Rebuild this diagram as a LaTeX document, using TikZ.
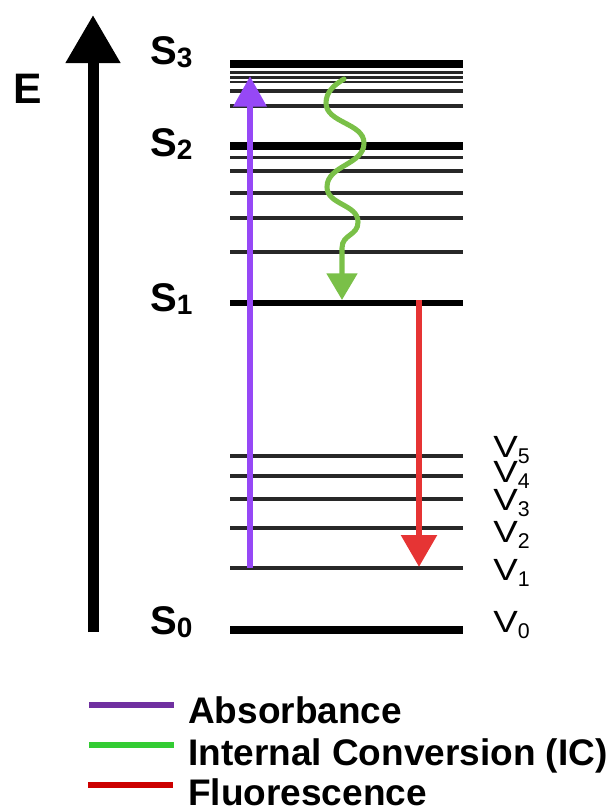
\documentclass[tikz,border=0pt]{standalone}
\usepackage{fontspec}
\setmainfont{Liberation Sans}
\usetikzlibrary{arrows.meta}
\definecolor{absviolet}{RGB}{150,72,246}
\definecolor{icgreen}{RGB}{122,192,72}
\definecolor{flred}{RGB}{230,52,52}
\definecolor{legviolet}{RGB}{112,48,160}
\definecolor{leggreen}{RGB}{51,204,51}
\definecolor{legred}{RGB}{204,0,0}
\definecolor{lvl}{RGB}{40,40,40}
\newcommand\ssub[1]{\raisebox{-2.5pt}{\fontsize{21}{21}\selectfont #1}}
\newcommand\vsub[1]{\raisebox{-4.5pt}{\fontsize{16}{16}\selectfont #1}}
\newcommand\vlet{\scalebox{1.2}[1]{V}}
\begin{document}
\begin{tikzpicture}[x=0.75pt,y=-0.75pt,
  thicklevel/.style={line width=6pt,black},
  thinlevel/.style={line width=2.6pt,lvl},
  finelevel/.style={line width=1.9pt,lvl},
  slabel/.style={anchor=base west,inner sep=0pt,font=\fontsize{30}{30}\selectfont\bfseries},
  vlabel/.style={anchor=base west,inner sep=0pt,font=\fontsize{23}{23}\selectfont},
  leglabel/.style={anchor=base west,inner sep=0pt,font=\fontsize{27.75}{28}\selectfont\bfseries},
  legline/.style={line width=4.5pt},
]
\useasboundingbox (0,0) rectangle (611,810);

% energy axis
\coordinate (axbot) at (93,632);
\coordinate (axtop) at (93,15);
\draw[line width=8.25pt,-{Triangle[length=36pt,width=39pt]}] (axbot) -- (axtop);
\node[anchor=base west,inner sep=0pt,font=\fontsize{32}{32}\selectfont\bfseries] (E) at (13,103) {E};

% S3 manifold
\draw[thicklevel] (230,63.5) -- (463,63.5);
\foreach \y in {72.5,77.3,82} \draw[finelevel] (230,\y) -- (463,\y);
\foreach \y in {91,106} \draw[thinlevel] (230,\y) -- (463,\y);
% S2 manifold
\draw[thicklevel] (230,146) -- (463,146);
\foreach \y in {157.5,171,193,218,252} \draw[thinlevel] (230,\y) -- (463,\y);
% S1
\draw[line width=5.2pt,black] (230,303) -- (463,303);
% S0 vibrational levels
\foreach \y in {456,476,499,528,568} \draw[thinlevel] (230,\y) -- (463,\y);
\draw[thicklevel] (230,630) -- (463,630);

% state labels
\node[slabel] (s3) at (150,64) {S\ssub{3}};
\node[slabel] (s2) at (150,156) {S\ssub{2}};
\node[slabel] (s1) at (150,311) {S\ssub{1}};
\node[slabel] (s0) at (150,634) {S\ssub{0}};

\node[vlabel] (v5) at (493,457) {\vlet\vsub{5}};
\node[vlabel] (v4) at (493,482) {\vlet\vsub{4}};
\node[vlabel] (v3) at (493,510) {\vlet\vsub{3}};
\node[vlabel] (v2) at (493,542) {\vlet\vsub{2}};
\node[vlabel] (v1) at (493,580) {\vlet\vsub{1}};
\node[vlabel] (v0) at (493,632) {\vlet\vsub{0}};

% absorbance
\coordinate (absfrom) at (250,568);
\coordinate (absto) at (250,76);
\draw[absviolet,line width=5pt,-{Triangle[length=23pt,width=24pt]}] (absfrom) -- (absto);

% internal conversion
\coordinate (icfrom) at (344,79);
\coordinate (icto) at (342,300);
\draw[icgreen,line width=3.8pt,line cap=round,-{Triangle[length=20pt,width=22.5pt]}]
  (icfrom) .. controls (334,85) and (326,92) .. (326,103)
  .. controls (326,123) and (364,123) .. (364,143)
  .. controls (364,165) and (327,165) .. (327,187)
  .. controls (327,205) and (358,204) .. (358,222)
  .. controls (358,236) and (342,234) .. (342,248)
  -- (icto);

% fluorescence
\coordinate (flfrom) at (419,300);
\coordinate (flto) at (419,567);
\draw[flred,line width=5pt,-{Triangle[length=24pt,width=26pt]}] (flfrom) -- (flto);

% legend
\draw[legline,legviolet] (89,705) -- (174,705);
\draw[legline,leggreen] (89,745) -- (174,745);
\draw[legline,legred] (88,785) -- (173,785);
\node[leglabel] (la) at (188,723) {Absorbance};
\node[leglabel] (li) at (188,765) {Internal Conversion (IC)};
\node[leglabel] (lf) at (188,805) {Fluorescence};
\end{tikzpicture}
\end{document}
